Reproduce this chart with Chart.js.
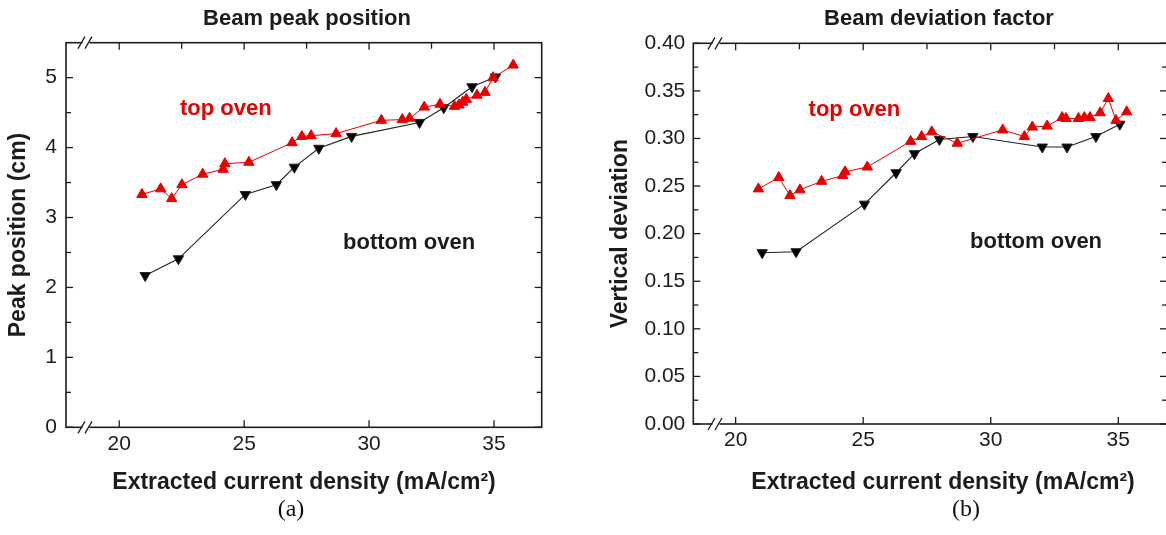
<!DOCTYPE html>
<html>
<head>
<meta charset="utf-8">
<script src="https://cdn.jsdelivr.net/npm/chart.js@4.4.1/dist/chart.umd.min.js"></script>
<style>
  body { margin: 0; width: 1166px; height: 535px; overflow: hidden; background: #fff; position: relative; }
  canvas { position: absolute; top: 0; }
  #peakChart { left: 0; }
  #devChart { left: 583px; }
  .caption { position: absolute; top: 496px; width: 60px; text-align: center;
             font-family: "Liberation Serif", serif; font-size: 24px; line-height: 24px; color: #111; }
</style>
</head>
<body>
<canvas id="peakChart" width="583" height="535"></canvas>
<canvas id="devChart" width="600" height="535"></canvas>
<div class="caption" style="left:261px">(a)</div>
<div class="caption" style="left:936px">(b)</div>
<script>
// extracted current density (mA/cm2)
const xTopA = [20.91, 21.66, 22.10, 22.51, 23.34, 24.16, 24.23, 25.19, 26.92, 27.31, 27.68, 28.68, 30.49,
  31.33, 31.62, 32.21, 32.84, 33.42, 33.60, 33.75, 33.89, 34.32, 34.64, 34.96, 35.77];
const xTopB = [20.89, 21.69, 22.13, 22.52, 23.37, 24.20, 24.29, 25.16, 26.86, 27.29, 27.69, 28.69, 30.47,
  31.32, 31.63, 32.21, 32.80, 32.95, 33.44, 33.67, 33.89, 34.29, 34.61, 34.91, 35.33];
const xBottom = [21.04, 22.37, 25.05, 26.29, 27.01, 27.99, 29.30, 32.02, 32.99, 34.12, 35.06];

// beam peak position (cm)
const peakTop = [3.33, 3.41, 3.27, 3.47, 3.62, 3.69, 3.77, 3.79, 4.07, 4.16, 4.17, 4.20, 4.39,
  4.40, 4.42, 4.58, 4.62, 4.59, 4.61, 4.65, 4.69, 4.75, 4.79, 5.00, 5.18];
const peakBottom = [2.17, 2.41, 3.33, 3.47, 3.72, 3.99, 4.16, 4.36, 4.57, 4.87, 5.01];

// vertical deviation factor
const devTop = [0.247, 0.259, 0.240, 0.246, 0.255, 0.261, 0.265, 0.270, 0.297, 0.302, 0.307, 0.295, 0.309,
  0.302, 0.312, 0.313, 0.322, 0.321, 0.321, 0.322, 0.322, 0.327, 0.342, 0.319, 0.328];
const devBottom = [0.180, 0.181, 0.231, 0.264, 0.284, 0.299, 0.302, 0.291, 0.291, 0.302, 0.315];

// ticks
const xTicks = [20, 25, 30, 35];
const xMinorTicks = [22.5, 27.5, 32.5];
const peakTicks = [0, 1, 2, 3, 4, 5];
const peakMinorTicks = [0.5, 1.5, 2.5, 3.5, 4.5];
const devTicks = [0, 0.05, 0.10, 0.15, 0.20, 0.25, 0.30, 0.35, 0.40];
const devMinorTicks = [0.025, 0.075, 0.125, 0.175, 0.225, 0.275, 0.325, 0.375];

const RED = "rgb(232,0,0)";
const INK = "#1c1c1c";
const SANS = "'Liberation Sans', Arial, sans-serif";

Chart.defaults.font.family = SANS;
Chart.defaults.color = INK;

const toPoints = (xs, ys) => xs.map((x, i) => ({ x: x, y: ys[i] }));

// closed box with inward ticks, axis break marks and text
const framePlugin = {
  id: "frame",
  afterDraw(chart, args, o) {
    const { ctx, chartArea: a, scales } = chart;
    const sx = scales.x, sy = scales.y;
    ctx.save();
    ctx.strokeStyle = INK;
    ctx.lineWidth = 1.6;
    ctx.strokeRect(a.left, a.top, a.right - a.left, a.bottom - a.top);

    const line = (x1, y1, x2, y2) => {
      ctx.beginPath();
      ctx.moveTo(x1, y1);
      ctx.lineTo(x2, y2);
      ctx.stroke();
    };
    ctx.lineWidth = 1.3;
    o.xMajor.forEach((v) => {
      const p = sx.getPixelForValue(v);
      line(p, a.bottom, p, a.bottom - 7);
      line(p, a.top, p, a.top + 7);
    });
    o.xMinor.forEach((v) => {
      const p = sx.getPixelForValue(v);
      line(p, a.top, p, a.top + 6);
    });
    o.yMajor.forEach((v) => {
      const p = sy.getPixelForValue(v);
      line(a.left, p, a.left + 7, p);
      line(a.right, p, a.right - 7, p);
    });
    o.yMinor.forEach((v) => {
      const p = sy.getPixelForValue(v);
      line(a.left, p, a.left + 5, p);
      line(a.right, p, a.right - 5, p);
    });

    // "//" break on the x axis
    const bx = sx.getPixelForValue(o.breakAt);
    [a.top, a.bottom].forEach((by) => {
      ctx.fillStyle = "#fff";
      ctx.fillRect(bx - 3.5, by - 2, 7, 4);
      ctx.lineWidth = 1.3;
      line(bx - 8, by + 6, bx - 1, by - 6);
      line(bx - 1, by + 6, bx + 6, by - 6);
    });

    // titles
    ctx.fillStyle = INK;
    ctx.textAlign = "center";
    ctx.textBaseline = "alphabetic";
    ctx.font = "bold 22px " + SANS;
    ctx.fillText(o.title, o.titleX, 25);
    ctx.font = "bold 23px " + SANS;
    ctx.fillText(o.xTitle, o.xTitleX, 489);

    // series labels
    ctx.textAlign = "left";
    o.labels.forEach((l) => {
      ctx.fillStyle = l.color;
      ctx.font = "bold 22px " + SANS;
      ctx.fillText(l.text, sx.getPixelForValue(l.x), sy.getPixelForValue(l.y));
    });
    ctx.restore();
  },
};

function makeDatasets(xTop, yTop, xBot, yBot) {
  return [
    {
      label: "top oven",
      data: toPoints(xTop, yTop),
      showLine: true,
      borderColor: RED,
      backgroundColor: RED,
      borderWidth: 1,
      pointStyle: "triangle",
      pointRadius: 6,
      pointBorderWidth: 1,
    },
    {
      label: "bottom oven",
      data: toPoints(xBot, yBot),
      showLine: true,
      borderColor: "#222",
      backgroundColor: "#000",
      borderWidth: 1.1,
      pointStyle: "triangle",
      rotation: 180,
      pointRadius: 6,
      pointBorderWidth: 1,
    },
  ];
}

function xScale(min, max) {
  return {
    type: "linear",
    min: min,
    max: max,
    grid: { display: false, drawTicks: false },
    border: { display: false },
    afterBuildTicks: (s) => { s.ticks = xTicks.map((v) => ({ value: v })); },
    afterFit: (s) => { s.height = 60; },
    ticks: { autoSkip: false, padding: 4, font: { size: 21 }, maxRotation: 0 },
  };
}

// (a) beam peak position
new Chart("peakChart", {
  type: "scatter",
  data: { datasets: makeDatasets(xTopA, peakTop, xBottom, peakBottom) },
  options: {
    responsive: false,
    animation: false,
    layout: { padding: { left: 0, right: 41.3, top: 42.7, bottom: 47.7 } },
    plugins: {
      legend: { display: false },
      tooltip: { enabled: false },
      frame: {
        xMajor: xTicks, xMinor: xMinorTicks, yMajor: peakTicks, yMinor: peakMinorTicks,
        breakAt: 18.67,
        title: "Beam peak position", titleX: 307,
        xTitle: "Extracted current density (mA/cm\u00B2)", xTitleX: 304,
        labels: [
          { text: "top oven", x: 22.43, y: 4.47, color: RED },
          { text: "bottom oven", x: 28.96, y: 2.55, color: INK },
        ],
      },
    },
    scales: {
      x: xScale(17.87, 36.91),
      y: {
        type: "linear",
        min: 0,
        max: 5.5,
        grid: { display: false, drawTicks: false },
        border: { display: false },
        afterBuildTicks: (s) => { s.ticks = peakTicks.map((v) => ({ value: v })); },
        afterFit: (s) => { s.width = 66; },
        ticks: { padding: 9, font: { size: 21 } },
        title: {
          display: true,
          text: "Peak position (cm)",
          font: { size: 23, weight: "bold" },
          padding: { top: 5, bottom: 0 },
        },
      },
    },
  },
  plugins: [framePlugin],
});

// (b) beam deviation factor
new Chart("devChart", {
  type: "scatter",
  data: { datasets: makeDatasets(xTopB, devTop, xBottom, devBottom) },
  options: {
    responsive: false,
    animation: false,
    layout: { padding: { left: 0, right: 16, top: 43.3, bottom: 51 } },
    plugins: {
      legend: { display: false },
      tooltip: { enabled: false },
      frame: {
        xMajor: xTicks, xMinor: xMinorTicks, yMajor: devTicks, yMinor: devMinorTicks,
        breakAt: 19.23,
        title: "Beam deviation factor", titleX: 356,
        xTitle: "Extracted current density (mA/cm\u00B2)", xTitleX: 360,
        labels: [
          { text: "top oven", x: 22.86, y: 0.3235, color: RED },
          { text: "bottom oven", x: 29.19, y: 0.185, color: INK },
        ],
      },
    },
    scales: {
      x: xScale(18.34, 36.91),
      y: {
        type: "linear",
        min: 0,
        max: 0.4,
        grid: { display: false, drawTicks: false },
        border: { display: false },
        afterBuildTicks: (s) => { s.ticks = devTicks.map((v) => ({ value: v })); },
        afterFit: (s) => { s.width = 110.3; },
        ticks: { padding: 8, font: { size: 21 }, callback: (v) => v.toFixed(2) },
        title: {
          display: true,
          text: "Vertical deviation",
          font: { size: 23, weight: "bold" },
          padding: { top: 24, bottom: 0 },
        },
      },
    },
  },
  plugins: [framePlugin],
});
</script>
</body>
</html>
